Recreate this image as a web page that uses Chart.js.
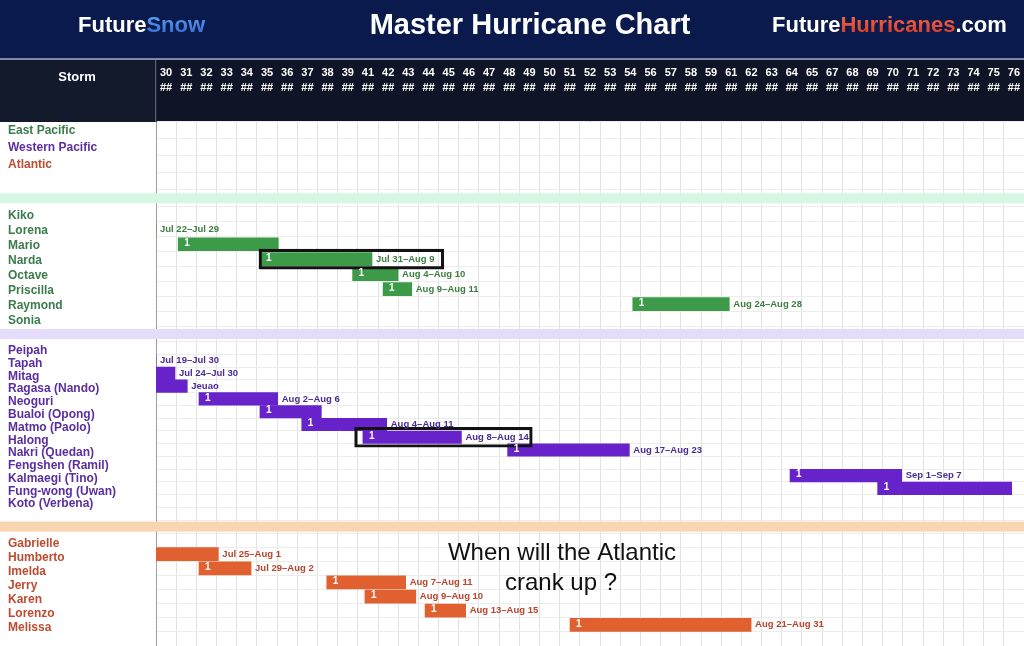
<!DOCTYPE html>
<html>
<head>
<meta charset="utf-8">
<script src="https://cdn.jsdelivr.net/npm/chart.js@4.4.1/dist/chart.umd.min.js"></script>
<style>
html,body{margin:0;padding:0;background:#ffffff;overflow:hidden}
#wrap{width:1024px;height:646px;position:relative}
</style>
</head>
<body>
<div id="wrap"><canvas id="c" width="1024" height="646"></canvas></div>
<script>
// ---------- DATA ----------
const columnLabels = ['30','31','32','33','34','35','36','37','38','39','41','42','43','44','45','46','47','48','49','50','51','52','53','54','56','57','58','59','61','62','63','64','65','67','68','69','70','71','72','73','74','75','76'];
const columnSubLabel = '##';
const BAND = '\u200b';

const regionLabels = ['East Pacific','Western Pacific','Atlantic','',BAND];
const eastPacificRows = ['Kiko','Lorena','Mario','Narda','Octave','Priscilla','Raymond','Sonia',BAND];
const westPacificRows = ['Peipah','Tapah','Mitag','Ragasa (Nando)','Neoguri','Bualoi (Opong)','Matmo (Paolo)','Halong','Nakri (Quedan)','Fengshen (Ramil)','Kalmaegi (Tino)','Fung-wong (Uwan)','Koto (Verbena)','',BAND];
const atlanticRows = ['Gabrielle','Humberto','Imelda','Jerry','Karen','Lorenzo','Melissa',''];

// East Pacific bars (column units)
const epNames = ['Lorena','Mario','Narda','Octave','Priscilla','Raymond'];
const epStart = [-3, 1.10, 5.15, 9.74, 11.25, 23.62];
const epEnd   = [0, 6.06, 10.70, 11.99, 12.67, 28.40];
const epDates = ['Jul 22–Jul 29','','Jul 31–Aug 9','Aug 4–Aug 10','Aug 9–Aug 11','Aug 24–Aug 28'];
const epOne   = [false, true, true, true, true, true];

// Western Pacific bars
const wpNames = ['Tapah','Mitag','Ragasa (Nando)','Neoguri','Bualoi (Opong)','Matmo (Paolo)','Halong','Nakri (Quedan)','Kalmaegi (Tino)','Fung-wong (Uwan)'];
const wpStart = [-3, -1, -1, 2.13, 5.15, 7.22, 10.25, 17.42, 31.41, 35.75];
const wpEnd   = [0, 0.94, 1.55, 6.03, 8.19, 11.43, 15.13, 23.45, 36.94, 42.39];
const wpDates = ['Jul 19–Jul 30','Jul 24–Jul 30','Jeuao','Aug 2–Aug 6','','Aug 4–Aug 11','Aug 8–Aug 14','Aug 17–Aug 23','Sep 1–Sep 7',''];
const wpOne   = [false, false, false, true, true, true, true, true, true, true];

// Atlantic bars
const atNames = ['Humberto','Imelda','Jerry','Karen','Lorenzo','Melissa'];
const atStart = [-1, 2.13, 8.46, 10.35, 13.33, 20.51];
const atEnd   = [3.09, 4.71, 12.37, 12.87, 15.34, 29.48];
const atDates = ['Jul 25–Aug 1','Jul 29–Aug 2','Aug 7–Aug 11','Aug 9–Aug 10','Aug 13–Aug 15','Aug 21–Aug 31'];
const atOne   = [false, true, true, true, true, true];

// Highlight boxes
const epBoxNames = ['Narda'];
const epBoxStart = [5.1];
const epBoxEnd   = [14.26];
const wpBoxNames = ['Halong'];
const wpBoxStart = [9.84];
const wpBoxEnd   = [18.64];

// ---------- STYLE ----------
const FONT = '"Liberation Sans", Arial, Helvetica, sans-serif';
const GREEN = '#3c9a48', PURPLE = '#6722c9', ORANGE = '#e0612f';
const GREEN_T = '#3b7b4c', PURPLE_T = '#5a2e9e', ORANGE_T = '#bd4b2f';
const regionColors = [GREEN_T, PURPLE_T, ORANGE_T, ORANGE_T, ORANGE_T];

function barSet(names, starts, ends, axis, color, thickness, dates, ones, dateColor) {
  return {
    type: 'bar', yAxisID: axis, xAxisID: 'x',
    data: names.map((n, i) => ({ y: n, x: [starts[i], ends[i]] })),
    backgroundColor: color, borderWidth: 0, barThickness: thickness,
    grouped: false, clip: 0,
    dates: dates, ones: ones, dateColor: dateColor
  };
}
function boxSet(names, starts, ends, axis) {
  return {
    type: 'bar', yAxisID: axis, xAxisID: 'x',
    data: names.map((n, i) => ({ y: n, x: [starts[i], ends[i]] })),
    backgroundColor: 'rgba(0,0,0,0)', borderColor: '#121212', borderWidth: 2.5,
    borderSkipped: false, barThickness: 20, grouped: false, clip: false
  };
}

function sectionAxis(labels, weight, stackWeight, color, labelOffset) {
  return {
    type: 'category', labels: labels, position: 'left', stack: 'rows',
    stackWeight: stackWeight, weight: weight, offset: true,
    grid: { offset: true, color: '#ececec', drawTicks: false },
    border: { display: true, color: '#a0a0a0', width: 1 },
    ticks: {
      autoSkip: false, crossAlign: 'far', padding: 0, labelOffset: labelOffset,
      color: color,
      font: { family: FONT, size: 12, weight: 'bold', lineHeight: 1 }
    },
    afterFit: s => { s.width = 148; s.paddingTop = 0; s.paddingBottom = 0; }
  };
}

const headerPlugin = {
  id: 'header',
  beforeDraw(chart) {
    const ctx = chart.ctx, W = chart.width;
    ctx.save();
    ctx.fillStyle = '#0a1a4c';
    ctx.fillRect(0, 0, W, 58);
    ctx.fillStyle = '#7d8aa6';
    ctx.fillRect(0, 58, W, 2);
    ctx.fillStyle = '#0f1427';
    ctx.fillRect(0, 60, W, chart.chartArea.top - 60);
    ctx.fillStyle = '#131a2c';
    ctx.fillRect(0, 60, chart.chartArea.left - 1, chart.chartArea.top - 60);
    ctx.fillStyle = '#59607a';
    ctx.fillRect(chart.chartArea.left - 1, 60, 1.2, chart.chartArea.top - 60);

    ctx.textBaseline = 'middle';
    // title
    ctx.fillStyle = '#ffffff';
    ctx.textAlign = 'center';
    ctx.font = 'bold 29px ' + FONT;
    ctx.fillText('Master Hurricane Chart', 530, 26);
    // FutureSnow
    ctx.textAlign = 'left';
    ctx.font = 'bold 22px ' + FONT;
    let x = 78;
    ctx.fillStyle = '#ffffff';
    ctx.fillText('Future', x, 26);
    x += ctx.measureText('Future').width;
    let g = ctx.createLinearGradient(0, 14, 0, 38);
    g.addColorStop(0, '#5ea2f2'); g.addColorStop(1, '#2e62cc');
    ctx.fillStyle = g;
    ctx.fillText('Snow', x, 26);
    // FutureHurricanes.com
    x = 772;
    ctx.fillStyle = '#ffffff';
    ctx.fillText('Future', x, 26);
    x += ctx.measureText('Future').width;
    g = ctx.createLinearGradient(0, 14, 0, 38);
    g.addColorStop(0, '#f26a4e'); g.addColorStop(1, '#d4321f');
    ctx.fillStyle = g;
    ctx.fillText('Hurricanes', x, 26);
    x += ctx.measureText('Hurricanes').width;
    ctx.fillStyle = '#ffffff';
    ctx.fillText('.com', x, 26);
    // Storm header
    ctx.textAlign = 'center';
    ctx.font = 'bold 13px ' + FONT;
    ctx.fillText('Storm', 77, 77);
    ctx.restore();
  }
};

const bandsPlugin = {
  id: 'bands',
  beforeDatasetsDraw(chart) {
    const ctx = chart.ctx;
    const bands = [['yA', '#d6f8e3'], ['yB', '#e5dbfb'], ['yC', '#f9d6b1']];
    ctx.save();
    bands.forEach(([id, color]) => {
      const s = chart.scales[id];
      const y = s.getPixelForValue(s.getLabels().indexOf(BAND));
      ctx.fillStyle = color;
      ctx.fillRect(0, y - 5, chart.width, 10);
    });
    ctx.restore();
  }
};

const labelsPlugin = {
  id: 'barLabels',
  afterDatasetsDraw(chart) {
    const ctx = chart.ctx, area = chart.chartArea;
    ctx.save();
    ctx.textBaseline = 'middle';
    ctx.textAlign = 'left';
    chart.data.datasets.forEach((ds, i) => {
      if (!ds.dates) return;
      const meta = chart.getDatasetMeta(i);
      meta.data.forEach((el, j) => {
        const right = Math.max(el.x, el.base);
        const left = Math.min(el.x, el.base);
        if (ds.ones[j] && left >= area.left - 1) {
          ctx.fillStyle = '#ffffff';
          ctx.font = 'bold 10px ' + FONT;
          ctx.fillText('1', left + 6, el.y - 1);
        }
        if (ds.dates[j]) {
          ctx.fillStyle = ds.dateColor;
          ctx.font = 'bold 9.5px ' + FONT;
          ctx.fillText(ds.dates[j], right + 4, el.y);
        }
      });
    });
    // annotation
    ctx.fillStyle = '#111111';
    ctx.textAlign = 'center';
    ctx.font = '24px ' + FONT;
    ctx.fillText('When will the Atlantic', 562, 553);
    ctx.fillText('crank up ?', 561, 583);
    ctx.restore();
  }
};

new Chart(document.getElementById('c'), {
  type: 'bar',
  data: {
    datasets: [
      boxSet(epBoxNames, epBoxStart, epBoxEnd, 'yB'),
      boxSet(wpBoxNames, wpBoxStart, wpBoxEnd, 'yC'),
      barSet(epNames, epStart, epEnd, 'yB', GREEN, 13, epDates, epOne, '#3a7d3f'),
      barSet(wpNames, wpStart, wpEnd, 'yC', PURPLE, 12.5, wpDates, wpOne, '#4b2a93'),
      barSet(atNames, atStart, atEnd, 'yD', ORANGE, 13, atDates, atOne, '#b8432a')
    ]
  },
  options: {
    indexAxis: 'y',
    responsive: false,
    animation: false,
    layout: { padding: { top: 65.5, left: 8, right: 0, bottom: 0 } },
    plugins: { legend: { display: false }, tooltip: { enabled: false }, title: { display: false } },
    scales: {
      x: {
        type: 'linear', position: 'top', min: 0, max: 43,
        afterBuildTicks: axis => { axis.ticks = columnLabels.map((l, i) => ({ value: i + 0.5 })); },
        afterFit: s => { s.height = 56.5; s.paddingLeft = 0; s.paddingRight = 0; },
        grid: { offset: true, color: '#e2e2e2', drawTicks: true, tickLength: 26.5, tickColor: 'rgba(0,0,0,0)' },
        border: { display: false },
        ticks: {
          autoSkip: false, maxRotation: 0, padding: 0, color: '#ffffff',
          font: { family: FONT, size: 11, weight: 'bold', lineHeight: '15px' },
          callback: (v, i) => [columnLabels[i], columnSubLabel]
        }
      },
      yA: sectionAxis(regionLabels, 4, 84.8, ctx => regionColors[ctx.index], 0.5),
      yB: sectionAxis(eastPacificRows, 3, 134.7, GREEN_T, 1.5),
      yC: sectionAxis(westPacificRows, 2, 191.5, PURPLE_T, 3),
      yD: sectionAxis(atlanticRows, 1, 113, ORANGE_T, 3.3)
    }
  },
  plugins: [headerPlugin, bandsPlugin, labelsPlugin]
});
</script>
</body>
</html>
